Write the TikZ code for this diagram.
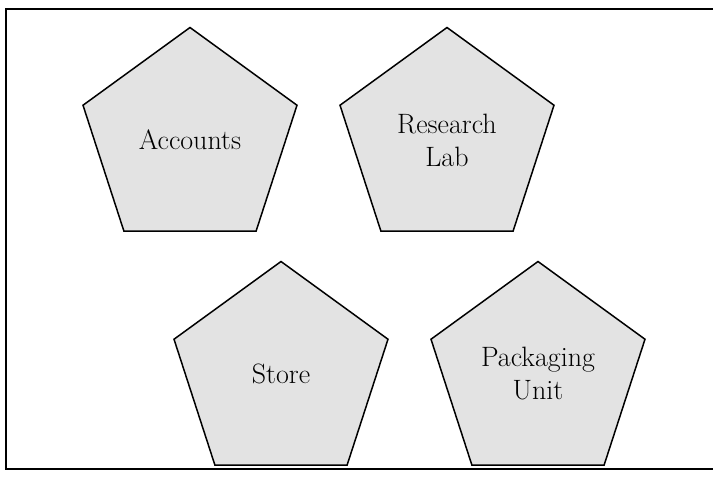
\documentclass[tikz,border=0pt]{standalone}
\usetikzlibrary{positioning, shapes.geometric}

\begin{document}
\begin{tikzpicture}[x=1pt,y=-1pt,on grid,node distance=257pt,
    font=\fontsize{28}{33}\selectfont]
  \tikzstyle{block}=[regular polygon,regular polygon sides=5,draw=black,line width=1.5pt,
    fill=gray!22,minimum size=225pt,inner sep=0pt,align=center]
  \useasboundingbox (0,0) rectangle (713,479);
  \draw[line width=1.5pt] (720,9) -- (6,9) -- (6,469) -- (720,469);

  \node[block]          (accounts) at (190,140) {Accounts};
  \node[block]          (lab) [right=of accounts] {Research\\Lab};
  \node[block]          (store) [below right=234pt and 91pt of accounts] {Store};
  \node[block]          (packaging) [right=of store] {Packaging\\Unit};
\end{tikzpicture}
\end{document}
